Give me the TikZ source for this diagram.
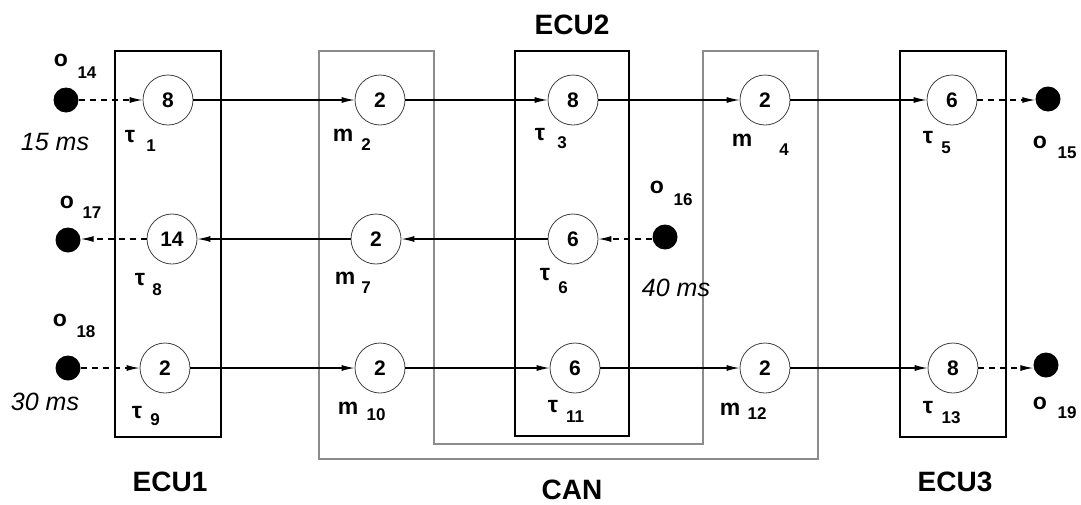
\documentclass[tikz,border=0pt]{standalone}
\usepackage{fontspec}
\setmainfont{Liberation Sans}
\usetikzlibrary{arrows.meta}
\tikzset{
  task/.style={circle, draw=black!75, line width=0.8pt, minimum size=50pt, inner sep=0pt,
    font=\fontsize{21}{25}\selectfont\bfseries},
  ext/.style={circle, fill=black, minimum size=25pt, inner sep=0pt},
  ecubox/.style={draw=black, line width=1.5pt},
  canbox/.style={draw=black!45, line width=1.7pt},
  flow/.style={line width=1.2pt, -{Latex[length=13pt,width=6pt]}},
  dflow/.style={flow, dash pattern=on 6pt off 5pt},
  mainlab/.style={inner sep=0pt, font=\fontsize{23}{27}\selectfont\bfseries},
  sublab/.style={inner sep=0pt, font=\fontsize{17}{20}\selectfont\bfseries},
  timelab/.style={inner sep=0pt, font=\fontsize{25}{29}\selectfont\itshape},
  titlelab/.style={inner sep=0pt, font=\fontsize{28}{32}\selectfont\bfseries},
}
\begin{document}
\begin{tikzpicture}[x=1pt,y=-1pt]
\useasboundingbox (0,0) rectangle (1081,504);
% boxes
\draw[canbox] (319,51) -- (434,51) -- (434,444) -- (703,444) -- (703,51) -- (818,51) -- (818,459) -- (319,459) -- cycle;
\draw[ecubox] (115,51) rectangle (221,437);
\draw[ecubox] (515,51) rectangle (629,436);
\draw[ecubox] (900,51) rectangle (1006,437);
% titles
\node[titlelab] (ecu2) at (572,25) {ECU2};
\node[titlelab] (ecu1) at (170,482) {ECU1};
\node[titlelab] (ecu3) at (955,482) {ECU3};
\node[titlelab] (can) at (572,490) {CAN};
% tasks and messages
\node[task] (t1) at (168,100) {8};
\node[task] (m2) at (380,100) {2};
\node[task] (t3) at (573,100) {8};
\node[task] (m4) at (765,100) {2};
\node[task] (t5) at (952,100) {6};
\node[task] (t8) at (172,239) {14};
\node[task] (m7) at (376,239) {2};
\node[task] (t6) at (573,239) {6};
\node[task] (t9) at (165,368) {2};
\node[task] (m10) at (380,368) {2};
\node[task] (t11) at (575,368) {6};
\node[task] (m12) at (765,368) {2};
\node[task] (t13) at (953,368) {8};
% external events
\node[ext] (o14) at (66,100) {};
\node[ext] (o15) at (1048,99) {};
\node[ext] (o17) at (68,240) {};
\node[ext] (o16) at (665,237) {};
\node[ext] (o18) at (68,368) {};
\node[ext] (o19) at (1046,365) {};
% connectors
\draw[dflow] (o14) -- (t1);
\draw[flow] (t1) -- (m2);
\draw[flow] (m2) -- (t3);
\draw[flow] (t3) -- (m4);
\draw[flow] (m4) -- (t5);
\draw[dflow] (t5.east) -- (o15.west |- t5.east);
\draw[dflow] (o16.west |- t6.east) -- (t6.east);
\draw[flow] (t6) -- (m7);
\draw[flow] (m7) -- (t8);
\draw[dflow] (t8.west) -- (o17.east |- t8.west);
\draw[dflow] (o18) -- (t9);
\draw[flow] (t9) -- (m10);
\draw[flow] (m10) -- (t11);
\draw[flow] (t11) -- (m12);
\draw[flow] (m12) -- (t13);
\draw[dflow] (t13.east) -- (o19.west |- t13.east);
% labels of events
\node[mainlab] (lo14) at (61,60) {o};   \node[sublab] (lo14s) at (87,73) {14};
\node[mainlab] (lo17) at (67,202) {o};  \node[sublab] (lo17s) at (92,213) {17};
\node[mainlab] (lo18) at (60,320) {o};  \node[sublab] (lo18s) at (86,332) {18};
\node[mainlab] (lo16) at (657,187) {o}; \node[sublab] (lo16s) at (683,200) {16};
\node[mainlab] (lo15) at (1040,142) {o};\node[sublab] (lo15s) at (1067,153) {15};
\node[mainlab] (lo19) at (1040,403) {o};\node[sublab] (lo19s) at (1067,413) {19};
% labels of tasks/messages
\node[mainlab] (lt1) at (130,137) {τ};  \node[sublab] (lt1s) at (151,146) {1};
\node[mainlab] (lm2) at (343,135) {m};  \node[sublab] (lm2s) at (366,145) {2};
\node[mainlab] (lt3) at (540,135) {τ};  \node[sublab] (lt3s) at (562,143) {3};
\node[mainlab] (lm4) at (742,140) {m};  \node[sublab] (lm4s) at (784,150) {4};
\node[mainlab] (lt5) at (928,138) {τ};  \node[sublab] (lt5s) at (946,148) {5};
\node[mainlab] (lt8) at (140,280) {τ};  \node[sublab] (lt8s) at (157,290) {8};
\node[mainlab] (lm7) at (345,278) {m};  \node[sublab] (lm7s) at (366,288) {7};
\node[mainlab] (lt6) at (545,275) {τ};  \node[sublab] (lt6s) at (563,288) {6};
\node[mainlab] (lt9) at (137,413) {τ};  \node[sublab] (lt9s) at (155,420) {9};
\node[mainlab] (lm10) at (348,408) {m}; \node[sublab] (lm10s) at (376,415) {10};
\node[mainlab] (lt11) at (553,407) {τ}; \node[sublab] (lt11s) at (575,417) {11};
\node[mainlab] (lm12) at (730,409) {m}; \node[sublab] (lm12s) at (757,414) {12};
\node[mainlab] (lt13) at (928,408) {τ}; \node[sublab] (lt13s) at (951,418) {13};
% periods
\node[timelab] (p15) at (55,142) {15 ms};
\node[timelab] (p30) at (45,402) {30 ms};
\node[timelab] (p40) at (676,288) {40 ms};
\end{tikzpicture}
\end{document}
